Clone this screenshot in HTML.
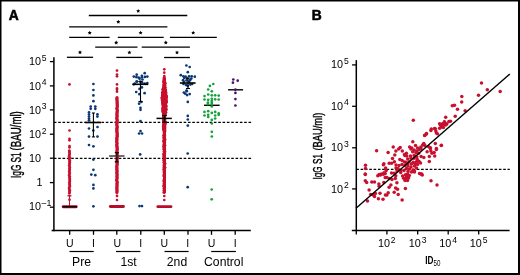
<!DOCTYPE html>
<html><head><meta charset="utf-8"><style>
html,body{margin:0;padding:0;background:#fff;}
body{width:520px;height:275px;overflow:hidden;position:relative;}
svg{position:absolute;left:0;top:0;will-change:transform;}
text{font-family:"Liberation Sans",sans-serif;fill:#000;}
</style></head><body>
<svg width="520" height="275" viewBox="0 0 520 275">
<rect x="0" y="0" width="520" height="275" fill="#fff"/>
<line x1="88.8" y1="15.5" x2="187.3" y2="15.5" stroke="#000" stroke-width="1.3" />
<polygon points="138.20,8.90 138.82,10.15 140.20,10.35 139.20,11.32 139.43,12.70 138.20,12.05 136.97,12.70 137.20,11.32 136.20,10.35 137.58,10.15" fill="#000"/>
<line x1="69.2" y1="26.8" x2="167.4" y2="26.8" stroke="#000" stroke-width="1.3" />
<polygon points="118.30,19.80 118.92,21.05 120.30,21.25 119.30,22.22 119.53,23.60 118.30,22.95 117.07,23.60 117.30,22.22 116.30,21.25 117.68,21.05" fill="#000"/>
<line x1="69.2" y1="37.3" x2="109.6" y2="37.3" stroke="#000" stroke-width="1.3" />
<polygon points="89.70,30.80 90.32,32.05 91.70,32.25 90.70,33.22 90.93,34.60 89.70,33.95 88.47,34.60 88.70,33.22 87.70,32.25 89.08,32.05" fill="#000"/>
<line x1="117.8" y1="37.3" x2="163.7" y2="37.3" stroke="#000" stroke-width="1.3" />
<polygon points="140.60,30.70 141.22,31.95 142.60,32.15 141.60,33.12 141.83,34.50 140.60,33.85 139.37,34.50 139.60,33.12 138.60,32.15 139.98,31.95" fill="#000"/>
<line x1="169.9" y1="37.4" x2="216.8" y2="37.4" stroke="#000" stroke-width="1.3" />
<polygon points="193.20,30.70 193.82,31.95 195.20,32.15 194.20,33.12 194.43,34.50 193.20,33.85 191.97,34.50 192.20,33.12 191.20,32.15 192.58,31.95" fill="#000"/>
<line x1="95.2" y1="47.2" x2="137.5" y2="47.2" stroke="#000" stroke-width="1.3" />
<polygon points="116.20,40.60 116.82,41.85 118.20,42.05 117.20,43.02 117.43,44.40 116.20,43.75 114.97,44.40 115.20,43.02 114.20,42.05 115.58,41.85" fill="#000"/>
<line x1="141.7" y1="47.2" x2="189.9" y2="47.2" stroke="#000" stroke-width="1.3" />
<polygon points="165.80,40.50 166.42,41.75 167.80,41.95 166.80,42.92 167.03,44.30 165.80,43.65 164.57,44.30 164.80,42.92 163.80,41.95 165.18,41.75" fill="#000"/>
<line x1="66.9" y1="57.3" x2="93.1" y2="57.3" stroke="#000" stroke-width="1.3" />
<polygon points="80.00,50.30 80.62,51.55 82.00,51.75 81.00,52.72 81.23,54.10 80.00,53.45 78.77,54.10 79.00,52.72 78.00,51.75 79.38,51.55" fill="#000"/>
<line x1="116.3" y1="57.4" x2="142.3" y2="57.4" stroke="#000" stroke-width="1.3" />
<polygon points="129.40,50.40 130.02,51.65 131.40,51.85 130.40,52.82 130.63,54.20 129.40,53.55 128.17,54.20 128.40,52.82 127.40,51.85 128.78,51.65" fill="#000"/>
<line x1="164.1" y1="57.5" x2="189.9" y2="57.5" stroke="#000" stroke-width="1.3" />
<polygon points="177.00,50.40 177.62,51.65 179.00,51.85 178.00,52.82 178.23,54.20 177.00,53.55 175.77,54.20 176.00,52.82 175.00,51.85 176.38,51.65" fill="#000"/>
<line x1="53.88" y1="122.4" x2="251.5" y2="122.4" stroke="#000" stroke-width="1.3" stroke-dasharray="2.6 1.725"/>
<line x1="53.88" y1="158.4" x2="251.5" y2="158.4" stroke="#000" stroke-width="1.3" stroke-dasharray="2.6 1.725"/>
<circle cx="69.5" cy="84.4" r="1.35" fill="#c8102e"/>
<circle cx="69.5" cy="130.5" r="1.35" fill="#c8102e"/>
<circle cx="69.5" cy="138.8" r="1.35" fill="#c8102e"/>
<circle cx="69.5" cy="140.3" r="1.35" fill="#c8102e"/>
<circle cx="69.5" cy="146.1" r="1.35" fill="#c8102e"/>
<circle cx="69.5" cy="147.5" r="1.35" fill="#c8102e"/>
<circle cx="69.3" cy="150.5" r="1.35" fill="#c8102e"/>
<circle cx="69.5" cy="151.5" r="1.35" fill="#c8102e"/>
<circle cx="69.4" cy="152.5" r="1.35" fill="#c8102e"/>
<circle cx="69.6" cy="153.5" r="1.35" fill="#c8102e"/>
<circle cx="69.6" cy="154.5" r="1.35" fill="#c8102e"/>
<circle cx="69.2" cy="155.5" r="1.35" fill="#c8102e"/>
<circle cx="69.1" cy="156.5" r="1.35" fill="#c8102e"/>
<circle cx="69.8" cy="157.5" r="1.35" fill="#c8102e"/>
<circle cx="69.3" cy="158.5" r="1.35" fill="#c8102e"/>
<circle cx="69.3" cy="159.5" r="1.35" fill="#c8102e"/>
<circle cx="69.9" cy="160.5" r="1.35" fill="#c8102e"/>
<circle cx="69.5" cy="161.5" r="1.35" fill="#c8102e"/>
<circle cx="69.8" cy="162.5" r="1.35" fill="#c8102e"/>
<circle cx="69.5" cy="163.5" r="1.35" fill="#c8102e"/>
<circle cx="69.6" cy="164.5" r="1.35" fill="#c8102e"/>
<circle cx="69.2" cy="165.5" r="1.35" fill="#c8102e"/>
<circle cx="69.6" cy="166.5" r="1.35" fill="#c8102e"/>
<circle cx="69.8" cy="167.5" r="1.35" fill="#c8102e"/>
<circle cx="69.5" cy="168.5" r="1.35" fill="#c8102e"/>
<circle cx="69.7" cy="169.5" r="1.35" fill="#c8102e"/>
<circle cx="69.6" cy="170.5" r="1.35" fill="#c8102e"/>
<circle cx="69.2" cy="171.5" r="1.35" fill="#c8102e"/>
<circle cx="69.7" cy="172.5" r="1.35" fill="#c8102e"/>
<circle cx="69.6" cy="173.5" r="1.35" fill="#c8102e"/>
<circle cx="69.3" cy="174.5" r="1.35" fill="#c8102e"/>
<circle cx="69.1" cy="175.5" r="1.35" fill="#c8102e"/>
<circle cx="69.8" cy="176.5" r="1.35" fill="#c8102e"/>
<circle cx="69.5" cy="177.5" r="1.35" fill="#c8102e"/>
<circle cx="69.7" cy="178.5" r="1.35" fill="#c8102e"/>
<circle cx="69.8" cy="179.5" r="1.35" fill="#c8102e"/>
<circle cx="69.7" cy="180.5" r="1.35" fill="#c8102e"/>
<circle cx="69.8" cy="181.5" r="1.35" fill="#c8102e"/>
<circle cx="69.4" cy="182.5" r="1.35" fill="#c8102e"/>
<circle cx="69.7" cy="183.5" r="1.35" fill="#c8102e"/>
<circle cx="69.5" cy="184.5" r="1.35" fill="#c8102e"/>
<circle cx="69.8" cy="185.5" r="1.35" fill="#c8102e"/>
<circle cx="69.8" cy="186.5" r="1.35" fill="#c8102e"/>
<circle cx="69.2" cy="187.5" r="1.35" fill="#c8102e"/>
<circle cx="69.2" cy="188.5" r="1.35" fill="#c8102e"/>
<circle cx="69.3" cy="189.5" r="1.35" fill="#c8102e"/>
<circle cx="69.9" cy="190.5" r="1.35" fill="#c8102e"/>
<circle cx="69.4" cy="191.5" r="1.35" fill="#c8102e"/>
<circle cx="69.6" cy="192.5" r="1.35" fill="#c8102e"/>
<circle cx="69.3" cy="193.5" r="1.35" fill="#c8102e"/>
<circle cx="69.5" cy="199.7" r="1.35" fill="#c8102e"/>
<line x1="69.5" y1="195" x2="69.5" y2="206" stroke="#c8102e" stroke-width="1.0" />
<rect x="61.7" y="205.2" width="16" height="3" rx="1.4" fill="#c8102e"/>
<line x1="62.5" y1="206.7" x2="77.0" y2="206.7" stroke="#000" stroke-width="1.6" />
<line x1="67.5" y1="195.8" x2="71.4" y2="195.8" stroke="#a00a25" stroke-width="1.3" />
<circle cx="93.4" cy="84.0" r="1.35" fill="#0a3874"/>
<circle cx="93.4" cy="90.0" r="1.35" fill="#0a3874"/>
<circle cx="93.4" cy="95.4" r="1.35" fill="#0a3874"/>
<circle cx="93.4" cy="101.2" r="1.35" fill="#0a3874"/>
<circle cx="90.7" cy="106.6" r="1.35" fill="#0a3874"/>
<circle cx="95.3" cy="106.6" r="1.35" fill="#0a3874"/>
<circle cx="90.7" cy="108.8" r="1.35" fill="#0a3874"/>
<circle cx="95.3" cy="108.8" r="1.35" fill="#0a3874"/>
<circle cx="89.0" cy="112.4" r="1.35" fill="#0a3874"/>
<circle cx="97.4" cy="114.3" r="1.35" fill="#0a3874"/>
<circle cx="89.0" cy="114.5" r="1.35" fill="#0a3874"/>
<circle cx="97.4" cy="116.6" r="1.35" fill="#0a3874"/>
<circle cx="89.0" cy="116.5" r="1.35" fill="#0a3874"/>
<circle cx="89.0" cy="118.5" r="1.35" fill="#0a3874"/>
<circle cx="89.0" cy="120.3" r="1.35" fill="#0a3874"/>
<circle cx="97.5" cy="127.0" r="1.35" fill="#0a3874"/>
<circle cx="89.0" cy="128.5" r="1.35" fill="#0a3874"/>
<circle cx="93.3" cy="130.5" r="1.35" fill="#0a3874"/>
<circle cx="89.0" cy="136.6" r="1.35" fill="#0a3874"/>
<circle cx="97.5" cy="136.6" r="1.35" fill="#0a3874"/>
<circle cx="89.0" cy="145.0" r="1.35" fill="#0a3874"/>
<circle cx="93.4" cy="146.3" r="1.35" fill="#0a3874"/>
<circle cx="93.4" cy="159.6" r="1.35" fill="#0a3874"/>
<circle cx="93.4" cy="169.8" r="1.35" fill="#0a3874"/>
<circle cx="91.3" cy="174.6" r="1.35" fill="#0a3874"/>
<circle cx="95.3" cy="175.2" r="1.35" fill="#0a3874"/>
<circle cx="93.4" cy="184.9" r="1.35" fill="#0a3874"/>
<circle cx="93.4" cy="188.4" r="1.35" fill="#0a3874"/>
<circle cx="93.4" cy="206.3" r="1.35" fill="#0a3874"/>
<line x1="93.4" y1="113" x2="93.4" y2="136.9" stroke="#000" stroke-width="1.1" />
<line x1="91.9" y1="113" x2="94.9" y2="113" stroke="#000" stroke-width="1.1" />
<line x1="91.9" y1="136.9" x2="94.9" y2="136.9" stroke="#000" stroke-width="1.1" />
<line x1="85.1" y1="122.5" x2="101.1" y2="122.5" stroke="#000" stroke-width="1.6" />
<circle cx="117.0" cy="70.6" r="1.35" fill="#c8102e"/>
<circle cx="117.0" cy="74.5" r="1.35" fill="#c8102e"/>
<circle cx="117.0" cy="76.3" r="1.35" fill="#c8102e"/>
<circle cx="117.0" cy="84.4" r="1.35" fill="#c8102e"/>
<circle cx="117.0" cy="88.4" r="1.35" fill="#c8102e"/>
<circle cx="117.0" cy="89.8" r="1.35" fill="#c8102e"/>
<circle cx="117.0" cy="91.7" r="1.35" fill="#c8102e"/>
<circle cx="117.0" cy="97.6" r="1.55" fill="#c8102e"/>
<circle cx="116.9" cy="98.6" r="1.55" fill="#c8102e"/>
<circle cx="116.9" cy="99.6" r="1.55" fill="#c8102e"/>
<circle cx="117.1" cy="100.6" r="1.55" fill="#c8102e"/>
<circle cx="117.1" cy="101.6" r="1.55" fill="#c8102e"/>
<circle cx="117.2" cy="102.6" r="1.55" fill="#c8102e"/>
<circle cx="117.1" cy="103.6" r="1.55" fill="#c8102e"/>
<circle cx="117.3" cy="104.6" r="1.55" fill="#c8102e"/>
<circle cx="117.2" cy="105.6" r="1.55" fill="#c8102e"/>
<circle cx="117.3" cy="106.6" r="1.55" fill="#c8102e"/>
<circle cx="117.1" cy="107.6" r="1.55" fill="#c8102e"/>
<circle cx="116.8" cy="108.6" r="1.55" fill="#c8102e"/>
<circle cx="117.2" cy="109.6" r="1.55" fill="#c8102e"/>
<circle cx="117.3" cy="110.6" r="1.55" fill="#c8102e"/>
<circle cx="117.2" cy="111.6" r="1.55" fill="#c8102e"/>
<circle cx="117.0" cy="112.6" r="1.55" fill="#c8102e"/>
<circle cx="117.1" cy="113.6" r="1.55" fill="#c8102e"/>
<circle cx="116.8" cy="114.6" r="1.55" fill="#c8102e"/>
<circle cx="117.2" cy="115.6" r="1.55" fill="#c8102e"/>
<circle cx="117.0" cy="116.6" r="1.55" fill="#c8102e"/>
<circle cx="116.9" cy="117.6" r="1.55" fill="#c8102e"/>
<circle cx="116.7" cy="118.6" r="1.55" fill="#c8102e"/>
<circle cx="117.2" cy="119.6" r="1.55" fill="#c8102e"/>
<circle cx="117.3" cy="120.6" r="1.55" fill="#c8102e"/>
<circle cx="116.8" cy="121.6" r="1.55" fill="#c8102e"/>
<circle cx="117.2" cy="122.6" r="1.55" fill="#c8102e"/>
<circle cx="116.9" cy="123.6" r="1.55" fill="#c8102e"/>
<circle cx="116.8" cy="124.6" r="1.55" fill="#c8102e"/>
<circle cx="116.9" cy="125.6" r="1.55" fill="#c8102e"/>
<circle cx="117.2" cy="126.6" r="1.55" fill="#c8102e"/>
<circle cx="117.2" cy="127.6" r="1.55" fill="#c8102e"/>
<circle cx="116.7" cy="128.6" r="1.55" fill="#c8102e"/>
<circle cx="117.1" cy="129.6" r="1.55" fill="#c8102e"/>
<circle cx="116.7" cy="130.6" r="1.55" fill="#c8102e"/>
<circle cx="117.1" cy="131.6" r="1.55" fill="#c8102e"/>
<circle cx="116.9" cy="132.6" r="1.55" fill="#c8102e"/>
<circle cx="117.2" cy="133.6" r="1.55" fill="#c8102e"/>
<circle cx="117.3" cy="134.6" r="1.55" fill="#c8102e"/>
<circle cx="117.0" cy="135.6" r="1.55" fill="#c8102e"/>
<circle cx="117.3" cy="136.6" r="1.55" fill="#c8102e"/>
<circle cx="116.9" cy="137.6" r="1.55" fill="#c8102e"/>
<circle cx="116.7" cy="138.6" r="1.55" fill="#c8102e"/>
<circle cx="117.1" cy="139.6" r="1.55" fill="#c8102e"/>
<circle cx="116.7" cy="140.6" r="1.55" fill="#c8102e"/>
<circle cx="116.8" cy="141.6" r="1.55" fill="#c8102e"/>
<circle cx="116.9" cy="142.6" r="1.55" fill="#c8102e"/>
<circle cx="117.1" cy="143.6" r="1.55" fill="#c8102e"/>
<circle cx="116.8" cy="144.6" r="1.55" fill="#c8102e"/>
<circle cx="116.7" cy="145.6" r="1.55" fill="#c8102e"/>
<circle cx="117.2" cy="146.6" r="1.55" fill="#c8102e"/>
<circle cx="116.9" cy="147.6" r="1.55" fill="#c8102e"/>
<circle cx="117.3" cy="148.6" r="1.55" fill="#c8102e"/>
<circle cx="117.2" cy="149.6" r="1.55" fill="#c8102e"/>
<circle cx="116.9" cy="150.6" r="1.55" fill="#c8102e"/>
<circle cx="117.0" cy="151.6" r="1.55" fill="#c8102e"/>
<circle cx="117.0" cy="152.6" r="1.55" fill="#c8102e"/>
<circle cx="117.1" cy="153.6" r="1.55" fill="#c8102e"/>
<circle cx="117.1" cy="154.6" r="1.55" fill="#c8102e"/>
<circle cx="117.0" cy="155.6" r="1.55" fill="#c8102e"/>
<circle cx="117.1" cy="156.6" r="1.55" fill="#c8102e"/>
<circle cx="117.3" cy="157.6" r="1.55" fill="#c8102e"/>
<circle cx="117.0" cy="158.6" r="1.55" fill="#c8102e"/>
<circle cx="117.0" cy="159.6" r="1.55" fill="#c8102e"/>
<circle cx="117.1" cy="160.6" r="1.55" fill="#c8102e"/>
<circle cx="116.8" cy="161.6" r="1.55" fill="#c8102e"/>
<circle cx="116.9" cy="162.6" r="1.55" fill="#c8102e"/>
<circle cx="117.3" cy="163.6" r="1.55" fill="#c8102e"/>
<circle cx="117.0" cy="164.6" r="1.55" fill="#c8102e"/>
<circle cx="117.0" cy="165.6" r="1.55" fill="#c8102e"/>
<circle cx="116.7" cy="166.6" r="1.55" fill="#c8102e"/>
<circle cx="116.9" cy="167.6" r="1.55" fill="#c8102e"/>
<circle cx="117.0" cy="168.6" r="1.55" fill="#c8102e"/>
<circle cx="116.7" cy="169.6" r="1.55" fill="#c8102e"/>
<circle cx="117.1" cy="170.6" r="1.55" fill="#c8102e"/>
<circle cx="117.1" cy="171.6" r="1.55" fill="#c8102e"/>
<circle cx="116.7" cy="172.6" r="1.55" fill="#c8102e"/>
<circle cx="117.1" cy="173.6" r="1.55" fill="#c8102e"/>
<circle cx="117.0" cy="174.6" r="1.55" fill="#c8102e"/>
<circle cx="117.1" cy="175.6" r="1.55" fill="#c8102e"/>
<circle cx="116.9" cy="176.6" r="1.55" fill="#c8102e"/>
<circle cx="117.1" cy="177.6" r="1.55" fill="#c8102e"/>
<circle cx="117.1" cy="178.6" r="1.55" fill="#c8102e"/>
<circle cx="116.7" cy="179.6" r="1.55" fill="#c8102e"/>
<circle cx="116.7" cy="180.6" r="1.55" fill="#c8102e"/>
<circle cx="117.1" cy="181.6" r="1.55" fill="#c8102e"/>
<circle cx="117.3" cy="182.6" r="1.55" fill="#c8102e"/>
<circle cx="116.9" cy="183.6" r="1.55" fill="#c8102e"/>
<circle cx="117.0" cy="184.6" r="1.55" fill="#c8102e"/>
<circle cx="117.1" cy="185.6" r="1.55" fill="#c8102e"/>
<circle cx="116.9" cy="186.6" r="1.55" fill="#c8102e"/>
<circle cx="116.9" cy="187.6" r="1.55" fill="#c8102e"/>
<circle cx="116.9" cy="188.6" r="1.55" fill="#c8102e"/>
<circle cx="116.9" cy="189.6" r="1.55" fill="#c8102e"/>
<circle cx="117.1" cy="190.6" r="1.55" fill="#c8102e"/>
<circle cx="116.9" cy="191.6" r="1.55" fill="#c8102e"/>
<circle cx="116.9" cy="192.6" r="1.55" fill="#c8102e"/>
<circle cx="117.0" cy="195.9" r="1.35" fill="#c8102e"/>
<circle cx="117.0" cy="200.0" r="1.35" fill="#c8102e"/>
<rect x="108.9" y="205.1" width="16.0" height="2.9" rx="1.4" fill="#b80c28"/>
<line x1="116.9" y1="152.6" x2="116.9" y2="161.8" stroke="#000" stroke-width="1.1" />
<line x1="114.8" y1="152.6" x2="118.8" y2="152.6" stroke="#000" stroke-width="1.2" />
<line x1="114.8" y1="161.8" x2="118.8" y2="161.8" stroke="#000" stroke-width="1.2" />
<line x1="109.1" y1="156.0" x2="124.5" y2="156.0" stroke="#333" stroke-width="1.4" />
<circle cx="144.7" cy="73.2" r="1.35" fill="#0a3874"/>
<circle cx="136.7" cy="74.7" r="1.35" fill="#0a3874"/>
<circle cx="141.9" cy="75.8" r="1.35" fill="#0a3874"/>
<circle cx="133.8" cy="76.6" r="1.35" fill="#0a3874"/>
<circle cx="136.4" cy="77.2" r="1.35" fill="#0a3874"/>
<circle cx="138.6" cy="77.5" r="1.35" fill="#0a3874"/>
<circle cx="144.9" cy="76.9" r="1.35" fill="#0a3874"/>
<circle cx="147.3" cy="76.6" r="1.35" fill="#0a3874"/>
<circle cx="141.9" cy="77.3" r="1.35" fill="#0a3874"/>
<circle cx="139.6" cy="78.7" r="1.35" fill="#0a3874"/>
<circle cx="142.5" cy="79.5" r="1.35" fill="#0a3874"/>
<circle cx="136.9" cy="81.7" r="1.35" fill="#0a3874"/>
<circle cx="140.3" cy="81.7" r="1.35" fill="#0a3874"/>
<circle cx="142.1" cy="82.6" r="1.35" fill="#0a3874"/>
<circle cx="144.7" cy="83.5" r="1.35" fill="#0a3874"/>
<circle cx="147.3" cy="83.0" r="1.35" fill="#0a3874"/>
<circle cx="133.8" cy="84.3" r="1.35" fill="#0a3874"/>
<circle cx="134.7" cy="83.7" r="1.35" fill="#0a3874"/>
<circle cx="136.6" cy="81.5" r="1.35" fill="#0a3874"/>
<circle cx="141.9" cy="87.4" r="1.35" fill="#0a3874"/>
<circle cx="139.5" cy="88.9" r="1.35" fill="#0a3874"/>
<circle cx="136.2" cy="92.0" r="1.35" fill="#0a3874"/>
<circle cx="144.6" cy="93.2" r="1.35" fill="#0a3874"/>
<circle cx="139.4" cy="94.2" r="1.35" fill="#0a3874"/>
<circle cx="141.3" cy="102.0" r="1.35" fill="#0a3874"/>
<circle cx="139.1" cy="103.7" r="1.35" fill="#0a3874"/>
<circle cx="140.5" cy="107.8" r="1.35" fill="#0a3874"/>
<circle cx="140.5" cy="109.8" r="1.35" fill="#0a3874"/>
<circle cx="140.5" cy="121.2" r="1.35" fill="#0a3874"/>
<circle cx="140.5" cy="131.1" r="1.35" fill="#0a3874"/>
<circle cx="139.1" cy="133.5" r="1.35" fill="#0a3874"/>
<circle cx="142.0" cy="133.5" r="1.35" fill="#0a3874"/>
<circle cx="140.2" cy="154.4" r="1.35" fill="#0a3874"/>
<circle cx="139.5" cy="206.1" r="1.35" fill="#0a3874"/>
<circle cx="142.0" cy="206.1" r="1.35" fill="#0a3874"/>
<line x1="140.5" y1="81.5" x2="140.5" y2="101.5" stroke="#000" stroke-width="1.1" />
<line x1="138.4" y1="81.5" x2="142.6" y2="81.5" stroke="#000" stroke-width="1.1" />
<line x1="138.4" y1="101.5" x2="142.7" y2="101.5" stroke="#000" stroke-width="1.1" />
<line x1="132.5" y1="84.3" x2="148.3" y2="84.3" stroke="#000" stroke-width="1.6" />
<circle cx="164.3" cy="69.3" r="1.35" fill="#c8102e"/>
<circle cx="164.3" cy="72.7" r="1.35" fill="#c8102e"/>
<circle cx="164.3" cy="76.1" r="1.35" fill="#c8102e"/>
<circle cx="164.2" cy="77.7" r="1.4" fill="#c8102e"/>
<circle cx="164.2" cy="78.1" r="1.4" fill="#c8102e"/>
<circle cx="164.6" cy="79.0" r="1.4" fill="#c8102e"/>
<circle cx="164.0" cy="78.6" r="1.4" fill="#c8102e"/>
<circle cx="164.3" cy="79.4" r="1.4" fill="#c8102e"/>
<circle cx="164.1" cy="79.5" r="1.4" fill="#c8102e"/>
<circle cx="164.4" cy="80.6" r="1.4" fill="#c8102e"/>
<circle cx="164.0" cy="80.3" r="1.4" fill="#c8102e"/>
<circle cx="164.0" cy="81.2" r="1.4" fill="#c8102e"/>
<circle cx="164.1" cy="81.0" r="1.4" fill="#c8102e"/>
<circle cx="164.4" cy="82.2" r="1.4" fill="#c8102e"/>
<circle cx="164.6" cy="81.8" r="1.4" fill="#c8102e"/>
<circle cx="163.3" cy="82.0" r="1.2" fill="#c8102e"/>
<circle cx="164.2" cy="82.6" r="1.4" fill="#c8102e"/>
<circle cx="164.3" cy="83.0" r="1.4" fill="#c8102e"/>
<circle cx="165.3" cy="82.8" r="1.2" fill="#c8102e"/>
<circle cx="164.2" cy="83.6" r="1.4" fill="#c8102e"/>
<circle cx="164.2" cy="83.5" r="1.4" fill="#c8102e"/>
<circle cx="165.5" cy="83.6" r="1.2" fill="#c8102e"/>
<circle cx="163.7" cy="84.7" r="1.4" fill="#c8102e"/>
<circle cx="164.6" cy="84.7" r="1.4" fill="#c8102e"/>
<circle cx="164.1" cy="85.3" r="1.4" fill="#c8102e"/>
<circle cx="165.0" cy="85.3" r="1.4" fill="#c8102e"/>
<circle cx="163.9" cy="85.9" r="1.4" fill="#c8102e"/>
<circle cx="164.6" cy="85.7" r="1.4" fill="#c8102e"/>
<circle cx="163.9" cy="87.0" r="1.4" fill="#c8102e"/>
<circle cx="164.6" cy="87.0" r="1.4" fill="#c8102e"/>
<circle cx="164.9" cy="87.0" r="1.4" fill="#c8102e"/>
<circle cx="163.4" cy="87.6" r="1.4" fill="#c8102e"/>
<circle cx="164.6" cy="87.7" r="1.4" fill="#c8102e"/>
<circle cx="165.6" cy="87.6" r="1.2" fill="#c8102e"/>
<circle cx="163.6" cy="87.6" r="1.4" fill="#c8102e"/>
<circle cx="163.9" cy="88.6" r="1.4" fill="#c8102e"/>
<circle cx="164.8" cy="88.2" r="1.4" fill="#c8102e"/>
<circle cx="164.4" cy="88.6" r="1.4" fill="#c8102e"/>
<circle cx="163.7" cy="89.0" r="1.4" fill="#c8102e"/>
<circle cx="164.9" cy="89.4" r="1.4" fill="#c8102e"/>
<circle cx="162.5" cy="89.2" r="1.2" fill="#c8102e"/>
<circle cx="165.1" cy="89.4" r="1.4" fill="#c8102e"/>
<circle cx="163.1" cy="89.7" r="1.4" fill="#c8102e"/>
<circle cx="165.4" cy="90.2" r="1.4" fill="#c8102e"/>
<circle cx="165.9" cy="90.0" r="1.2" fill="#c8102e"/>
<circle cx="164.6" cy="90.0" r="1.4" fill="#c8102e"/>
<circle cx="163.5" cy="90.7" r="1.4" fill="#c8102e"/>
<circle cx="165.6" cy="91.0" r="1.4" fill="#c8102e"/>
<circle cx="163.2" cy="90.5" r="1.4" fill="#c8102e"/>
<circle cx="163.1" cy="91.3" r="1.4" fill="#c8102e"/>
<circle cx="165.7" cy="91.6" r="1.4" fill="#c8102e"/>
<circle cx="163.4" cy="91.3" r="1.4" fill="#c8102e"/>
<circle cx="164.0" cy="91.5" r="1.4" fill="#c8102e"/>
<circle cx="163.1" cy="92.3" r="1.4" fill="#c8102e"/>
<circle cx="166.0" cy="92.4" r="1.4" fill="#c8102e"/>
<circle cx="162.1" cy="92.4" r="1.2" fill="#c8102e"/>
<circle cx="164.0" cy="92.1" r="1.4" fill="#c8102e"/>
<circle cx="163.4" cy="92.3" r="1.4" fill="#c8102e"/>
<circle cx="162.7" cy="93.4" r="1.4" fill="#c8102e"/>
<circle cx="165.7" cy="93.4" r="1.4" fill="#c8102e"/>
<circle cx="164.1" cy="93.1" r="1.4" fill="#c8102e"/>
<circle cx="164.3" cy="93.3" r="1.4" fill="#c8102e"/>
<circle cx="162.8" cy="94.1" r="1.4" fill="#c8102e"/>
<circle cx="165.9" cy="93.8" r="1.4" fill="#c8102e"/>
<circle cx="165.0" cy="93.7" r="1.4" fill="#c8102e"/>
<circle cx="164.0" cy="94.0" r="1.4" fill="#c8102e"/>
<circle cx="162.3" cy="95.1" r="1.4" fill="#c8102e"/>
<circle cx="165.9" cy="95.0" r="1.4" fill="#c8102e"/>
<circle cx="163.4" cy="94.8" r="1.4" fill="#c8102e"/>
<circle cx="162.9" cy="95.0" r="1.4" fill="#c8102e"/>
<circle cx="162.3" cy="95.8" r="1.4" fill="#c8102e"/>
<circle cx="166.3" cy="95.7" r="1.4" fill="#c8102e"/>
<circle cx="164.5" cy="95.4" r="1.4" fill="#c8102e"/>
<circle cx="164.6" cy="95.3" r="1.4" fill="#c8102e"/>
<circle cx="162.7" cy="96.6" r="1.4" fill="#c8102e"/>
<circle cx="165.9" cy="96.2" r="1.4" fill="#c8102e"/>
<circle cx="166.8" cy="96.4" r="1.2" fill="#c8102e"/>
<circle cx="162.4" cy="96.6" r="1.4" fill="#c8102e"/>
<circle cx="162.8" cy="96.6" r="1.4" fill="#c8102e"/>
<circle cx="165.0" cy="96.6" r="1.4" fill="#c8102e"/>
<circle cx="162.1" cy="97.2" r="1.4" fill="#c8102e"/>
<circle cx="166.4" cy="96.9" r="1.4" fill="#c8102e"/>
<circle cx="164.3" cy="97.3" r="1.4" fill="#c8102e"/>
<circle cx="162.8" cy="97.3" r="1.4" fill="#c8102e"/>
<circle cx="166.0" cy="96.9" r="1.4" fill="#c8102e"/>
<circle cx="162.6" cy="98.0" r="1.4" fill="#c8102e"/>
<circle cx="166.4" cy="97.8" r="1.4" fill="#c8102e"/>
<circle cx="161.7" cy="98.0" r="1.2" fill="#c8102e"/>
<circle cx="165.1" cy="98.3" r="1.4" fill="#c8102e"/>
<circle cx="163.3" cy="98.1" r="1.4" fill="#c8102e"/>
<circle cx="166.0" cy="98.0" r="1.4" fill="#c8102e"/>
<circle cx="162.1" cy="98.7" r="1.4" fill="#c8102e"/>
<circle cx="165.9" cy="99.1" r="1.4" fill="#c8102e"/>
<circle cx="166.1" cy="98.7" r="1.4" fill="#c8102e"/>
<circle cx="164.6" cy="98.8" r="1.4" fill="#c8102e"/>
<circle cx="162.2" cy="99.7" r="1.4" fill="#c8102e"/>
<circle cx="165.9" cy="99.5" r="1.4" fill="#c8102e"/>
<circle cx="163.0" cy="99.6" r="1.4" fill="#c8102e"/>
<circle cx="164.2" cy="99.7" r="1.4" fill="#c8102e"/>
<circle cx="162.2" cy="100.5" r="1.4" fill="#c8102e"/>
<circle cx="166.3" cy="100.2" r="1.4" fill="#c8102e"/>
<circle cx="163.0" cy="100.4" r="1.4" fill="#c8102e"/>
<circle cx="165.9" cy="100.6" r="1.4" fill="#c8102e"/>
<circle cx="162.5" cy="101.4" r="1.4" fill="#c8102e"/>
<circle cx="166.1" cy="101.4" r="1.4" fill="#c8102e"/>
<circle cx="164.6" cy="101.5" r="1.4" fill="#c8102e"/>
<circle cx="165.7" cy="101.1" r="1.4" fill="#c8102e"/>
<circle cx="162.8" cy="102.2" r="1.4" fill="#c8102e"/>
<circle cx="165.8" cy="102.0" r="1.4" fill="#c8102e"/>
<circle cx="166.9" cy="102.0" r="1.2" fill="#c8102e"/>
<circle cx="163.0" cy="102.3" r="1.4" fill="#c8102e"/>
<circle cx="164.2" cy="102.1" r="1.4" fill="#c8102e"/>
<circle cx="162.7" cy="103.0" r="1.4" fill="#c8102e"/>
<circle cx="166.2" cy="102.8" r="1.4" fill="#c8102e"/>
<circle cx="165.1" cy="103.0" r="1.4" fill="#c8102e"/>
<circle cx="164.0" cy="102.9" r="1.4" fill="#c8102e"/>
<circle cx="162.4" cy="103.6" r="1.4" fill="#c8102e"/>
<circle cx="165.7" cy="103.4" r="1.4" fill="#c8102e"/>
<circle cx="164.9" cy="103.9" r="1.4" fill="#c8102e"/>
<circle cx="165.5" cy="103.4" r="1.4" fill="#c8102e"/>
<circle cx="163.0" cy="104.3" r="1.4" fill="#c8102e"/>
<circle cx="165.6" cy="104.5" r="1.4" fill="#c8102e"/>
<circle cx="165.6" cy="104.3" r="1.4" fill="#c8102e"/>
<circle cx="165.5" cy="104.3" r="1.4" fill="#c8102e"/>
<circle cx="162.9" cy="105.3" r="1.4" fill="#c8102e"/>
<circle cx="165.5" cy="105.0" r="1.4" fill="#c8102e"/>
<circle cx="163.6" cy="105.1" r="1.4" fill="#c8102e"/>
<circle cx="164.6" cy="105.3" r="1.4" fill="#c8102e"/>
<circle cx="163.2" cy="105.9" r="1.4" fill="#c8102e"/>
<circle cx="165.7" cy="106.0" r="1.4" fill="#c8102e"/>
<circle cx="166.5" cy="106.0" r="1.2" fill="#c8102e"/>
<circle cx="164.4" cy="105.8" r="1.4" fill="#c8102e"/>
<circle cx="163.6" cy="106.1" r="1.4" fill="#c8102e"/>
<circle cx="163.1" cy="107.0" r="1.4" fill="#c8102e"/>
<circle cx="166.0" cy="106.6" r="1.4" fill="#c8102e"/>
<circle cx="163.9" cy="107.0" r="1.4" fill="#c8102e"/>
<circle cx="165.1" cy="106.7" r="1.4" fill="#c8102e"/>
<circle cx="162.8" cy="107.7" r="1.4" fill="#c8102e"/>
<circle cx="165.9" cy="107.5" r="1.4" fill="#c8102e"/>
<circle cx="165.7" cy="107.7" r="1.4" fill="#c8102e"/>
<circle cx="164.4" cy="107.4" r="1.4" fill="#c8102e"/>
<circle cx="162.9" cy="108.3" r="1.4" fill="#c8102e"/>
<circle cx="165.8" cy="108.5" r="1.4" fill="#c8102e"/>
<circle cx="163.4" cy="108.5" r="1.4" fill="#c8102e"/>
<circle cx="164.7" cy="108.2" r="1.4" fill="#c8102e"/>
<circle cx="162.7" cy="109.3" r="1.4" fill="#c8102e"/>
<circle cx="165.4" cy="109.5" r="1.4" fill="#c8102e"/>
<circle cx="166.5" cy="109.2" r="1.2" fill="#c8102e"/>
<circle cx="164.7" cy="109.2" r="1.4" fill="#c8102e"/>
<circle cx="163.7" cy="109.0" r="1.4" fill="#c8102e"/>
<circle cx="163.0" cy="110.2" r="1.4" fill="#c8102e"/>
<circle cx="165.7" cy="109.8" r="1.4" fill="#c8102e"/>
<circle cx="166.3" cy="110.0" r="1.2" fill="#c8102e"/>
<circle cx="163.6" cy="109.9" r="1.4" fill="#c8102e"/>
<circle cx="165.3" cy="109.7" r="1.4" fill="#c8102e"/>
<circle cx="163.1" cy="110.6" r="1.4" fill="#c8102e"/>
<circle cx="165.7" cy="110.7" r="1.4" fill="#c8102e"/>
<circle cx="164.0" cy="110.8" r="1.4" fill="#c8102e"/>
<circle cx="165.0" cy="110.7" r="1.4" fill="#c8102e"/>
<circle cx="162.9" cy="111.4" r="1.4" fill="#c8102e"/>
<circle cx="165.2" cy="111.4" r="1.4" fill="#c8102e"/>
<circle cx="162.6" cy="111.6" r="1.2" fill="#c8102e"/>
<circle cx="163.5" cy="111.5" r="1.4" fill="#c8102e"/>
<circle cx="163.1" cy="112.6" r="1.4" fill="#c8102e"/>
<circle cx="165.5" cy="112.5" r="1.4" fill="#c8102e"/>
<circle cx="166.2" cy="112.4" r="1.2" fill="#c8102e"/>
<circle cx="164.4" cy="112.2" r="1.4" fill="#c8102e"/>
<circle cx="163.6" cy="113.4" r="1.4" fill="#c8102e"/>
<circle cx="165.1" cy="113.1" r="1.4" fill="#c8102e"/>
<circle cx="164.2" cy="113.1" r="1.4" fill="#c8102e"/>
<circle cx="163.3" cy="113.9" r="1.4" fill="#c8102e"/>
<circle cx="165.4" cy="113.9" r="1.4" fill="#c8102e"/>
<circle cx="164.4" cy="114.1" r="1.4" fill="#c8102e"/>
<circle cx="163.3" cy="114.9" r="1.4" fill="#c8102e"/>
<circle cx="164.7" cy="114.6" r="1.4" fill="#c8102e"/>
<circle cx="163.7" cy="115.0" r="1.4" fill="#c8102e"/>
<circle cx="163.8" cy="115.4" r="1.4" fill="#c8102e"/>
<circle cx="165.0" cy="115.4" r="1.4" fill="#c8102e"/>
<circle cx="163.9" cy="115.8" r="1.4" fill="#c8102e"/>
<circle cx="163.4" cy="116.7" r="1.4" fill="#c8102e"/>
<circle cx="164.6" cy="116.3" r="1.4" fill="#c8102e"/>
<circle cx="163.8" cy="116.4" r="1.4" fill="#c8102e"/>
<circle cx="164.1" cy="117.5" r="1.4" fill="#c8102e"/>
<circle cx="164.5" cy="117.3" r="1.4" fill="#c8102e"/>
<circle cx="163.8" cy="117.7" r="1.4" fill="#c8102e"/>
<circle cx="164.6" cy="117.9" r="1.4" fill="#c8102e"/>
<circle cx="163.8" cy="118.5" r="1.4" fill="#c8102e"/>
<circle cx="164.9" cy="119.0" r="1.4" fill="#c8102e"/>
<circle cx="163.0" cy="118.8" r="1.2" fill="#c8102e"/>
<circle cx="164.1" cy="119.8" r="1.4" fill="#c8102e"/>
<circle cx="164.9" cy="119.8" r="1.4" fill="#c8102e"/>
<circle cx="163.8" cy="120.4" r="1.4" fill="#c8102e"/>
<circle cx="164.4" cy="120.1" r="1.4" fill="#c8102e"/>
<circle cx="163.1" cy="120.4" r="1.2" fill="#c8102e"/>
<circle cx="164.0" cy="121.2" r="1.4" fill="#c8102e"/>
<circle cx="164.4" cy="121.4" r="1.4" fill="#c8102e"/>
<circle cx="165.3" cy="121.2" r="1.2" fill="#c8102e"/>
<circle cx="163.9" cy="122.2" r="1.4" fill="#c8102e"/>
<circle cx="164.7" cy="121.8" r="1.4" fill="#c8102e"/>
<circle cx="163.7" cy="122.7" r="1.4" fill="#c8102e"/>
<circle cx="164.7" cy="122.8" r="1.4" fill="#c8102e"/>
<circle cx="164.0" cy="123.3" r="1.4" fill="#c8102e"/>
<circle cx="164.6" cy="123.8" r="1.4" fill="#c8102e"/>
<circle cx="165.6" cy="123.6" r="1.2" fill="#c8102e"/>
<circle cx="164.0" cy="124.1" r="1.4" fill="#c8102e"/>
<circle cx="164.9" cy="124.4" r="1.4" fill="#c8102e"/>
<circle cx="163.8" cy="124.5" r="1.4" fill="#c8102e"/>
<circle cx="163.8" cy="125.0" r="1.4" fill="#c8102e"/>
<circle cx="165.1" cy="125.1" r="1.4" fill="#c8102e"/>
<circle cx="163.7" cy="125.3" r="1.4" fill="#c8102e"/>
<circle cx="163.9" cy="125.7" r="1.4" fill="#c8102e"/>
<circle cx="164.8" cy="126.2" r="1.4" fill="#c8102e"/>
<circle cx="164.0" cy="126.7" r="1.4" fill="#c8102e"/>
<circle cx="164.6" cy="126.7" r="1.4" fill="#c8102e"/>
<circle cx="163.0" cy="126.8" r="1.2" fill="#c8102e"/>
<circle cx="163.6" cy="127.5" r="1.4" fill="#c8102e"/>
<circle cx="165.1" cy="127.9" r="1.4" fill="#c8102e"/>
<circle cx="163.6" cy="128.4" r="1.4" fill="#c8102e"/>
<circle cx="164.7" cy="128.1" r="1.4" fill="#c8102e"/>
<circle cx="163.6" cy="129.1" r="1.4" fill="#c8102e"/>
<circle cx="164.3" cy="129.2" r="1.4" fill="#c8102e"/>
<circle cx="163.4" cy="129.2" r="1.2" fill="#c8102e"/>
<circle cx="163.9" cy="129.7" r="1.4" fill="#c8102e"/>
<circle cx="164.6" cy="130.0" r="1.4" fill="#c8102e"/>
<circle cx="165.2" cy="130.0" r="1.2" fill="#c8102e"/>
<circle cx="163.7" cy="130.8" r="1.4" fill="#c8102e"/>
<circle cx="164.8" cy="131.1" r="1.4" fill="#c8102e"/>
<circle cx="164.4" cy="131.5" r="1.4" fill="#c8102e"/>
<circle cx="164.6" cy="131.9" r="1.4" fill="#c8102e"/>
<circle cx="165.1" cy="131.6" r="1.2" fill="#c8102e"/>
<circle cx="164.2" cy="132.4" r="1.4" fill="#c8102e"/>
<circle cx="164.5" cy="132.4" r="1.4" fill="#c8102e"/>
<circle cx="164.2" cy="133.4" r="1.4" fill="#c8102e"/>
<circle cx="164.7" cy="133.1" r="1.4" fill="#c8102e"/>
<circle cx="164.3" cy="133.8" r="1.4" fill="#c8102e"/>
<circle cx="164.6" cy="134.0" r="1.4" fill="#c8102e"/>
<circle cx="164.1" cy="134.7" r="1.4" fill="#c8102e"/>
<circle cx="164.6" cy="134.8" r="1.4" fill="#c8102e"/>
<circle cx="164.0" cy="135.7" r="1.4" fill="#c8102e"/>
<circle cx="164.7" cy="135.3" r="1.4" fill="#c8102e"/>
<circle cx="163.3" cy="135.6" r="1.2" fill="#c8102e"/>
<circle cx="164.5" cy="136.5" r="1.4" fill="#c8102e"/>
<circle cx="164.5" cy="136.3" r="1.4" fill="#c8102e"/>
<circle cx="164.0" cy="136.9" r="1.4" fill="#c8102e"/>
<circle cx="164.4" cy="136.9" r="1.4" fill="#c8102e"/>
<circle cx="164.0" cy="138.1" r="1.4" fill="#c8102e"/>
<circle cx="164.7" cy="137.7" r="1.4" fill="#c8102e"/>
<circle cx="163.6" cy="138.0" r="1.2" fill="#c8102e"/>
<circle cx="164.4" cy="138.8" r="1.4" fill="#c8102e"/>
<circle cx="164.6" cy="138.6" r="1.4" fill="#c8102e"/>
<circle cx="163.9" cy="139.9" r="1.4" fill="#c8102e"/>
<circle cx="164.1" cy="139.9" r="1.4" fill="#c8102e"/>
<circle cx="165.3" cy="139.6" r="1.2" fill="#c8102e"/>
<circle cx="164.5" cy="140.4" r="1.4" fill="#c8102e"/>
<circle cx="164.3" cy="140.6" r="1.4" fill="#c8102e"/>
<circle cx="164.1" cy="141.2" r="1.4" fill="#c8102e"/>
<circle cx="164.1" cy="141.0" r="1.4" fill="#c8102e"/>
<circle cx="163.5" cy="141.2" r="1.2" fill="#c8102e"/>
<circle cx="164.0" cy="141.8" r="1.4" fill="#c8102e"/>
<circle cx="164.7" cy="141.9" r="1.4" fill="#c8102e"/>
<circle cx="165.0" cy="142.0" r="1.2" fill="#c8102e"/>
<circle cx="164.0" cy="142.9" r="1.4" fill="#c8102e"/>
<circle cx="164.4" cy="143.0" r="1.4" fill="#c8102e"/>
<circle cx="164.4" cy="143.7" r="1.4" fill="#c8102e"/>
<circle cx="164.3" cy="143.4" r="1.4" fill="#c8102e"/>
<circle cx="164.2" cy="144.6" r="1.4" fill="#c8102e"/>
<circle cx="164.1" cy="144.4" r="1.4" fill="#c8102e"/>
<circle cx="164.1" cy="144.9" r="1.4" fill="#c8102e"/>
<circle cx="164.2" cy="145.2" r="1.4" fill="#c8102e"/>
<circle cx="165.1" cy="145.2" r="1.2" fill="#c8102e"/>
<circle cx="164.2" cy="146.1" r="1.4" fill="#c8102e"/>
<circle cx="164.1" cy="145.9" r="1.4" fill="#c8102e"/>
<circle cx="164.4" cy="146.8" r="1.4" fill="#c8102e"/>
<circle cx="164.0" cy="146.6" r="1.4" fill="#c8102e"/>
<circle cx="163.4" cy="146.8" r="1.2" fill="#c8102e"/>
<circle cx="164.0" cy="147.9" r="1.4" fill="#c8102e"/>
<circle cx="164.4" cy="147.9" r="1.4" fill="#c8102e"/>
<circle cx="164.3" cy="148.7" r="1.4" fill="#c8102e"/>
<circle cx="164.6" cy="148.7" r="1.4" fill="#c8102e"/>
<circle cx="164.1" cy="149.1" r="1.4" fill="#c8102e"/>
<circle cx="164.7" cy="149.5" r="1.4" fill="#c8102e"/>
<circle cx="163.7" cy="149.2" r="1.2" fill="#c8102e"/>
<circle cx="164.5" cy="150.1" r="1.4" fill="#c8102e"/>
<circle cx="164.2" cy="150.0" r="1.4" fill="#c8102e"/>
<circle cx="164.6" cy="150.9" r="1.4" fill="#c8102e"/>
<circle cx="164.2" cy="150.8" r="1.4" fill="#c8102e"/>
<circle cx="164.1" cy="151.7" r="1.4" fill="#c8102e"/>
<circle cx="164.2" cy="151.4" r="1.4" fill="#c8102e"/>
<circle cx="165.1" cy="151.6" r="1.2" fill="#c8102e"/>
<circle cx="164.5" cy="152.4" r="1.4" fill="#c8102e"/>
<circle cx="164.6" cy="152.3" r="1.4" fill="#c8102e"/>
<circle cx="164.1" cy="153.3" r="1.4" fill="#c8102e"/>
<circle cx="164.6" cy="153.2" r="1.4" fill="#c8102e"/>
<circle cx="164.3" cy="154.3" r="1.4" fill="#c8102e"/>
<circle cx="164.1" cy="154.3" r="1.4" fill="#c8102e"/>
<circle cx="163.5" cy="154.0" r="1.2" fill="#c8102e"/>
<circle cx="164.0" cy="155.0" r="1.4" fill="#c8102e"/>
<circle cx="164.2" cy="154.6" r="1.4" fill="#c8102e"/>
<circle cx="164.6" cy="155.4" r="1.4" fill="#c8102e"/>
<circle cx="164.4" cy="155.6" r="1.4" fill="#c8102e"/>
<circle cx="163.8" cy="155.6" r="1.2" fill="#c8102e"/>
<circle cx="163.9" cy="156.6" r="1.4" fill="#c8102e"/>
<circle cx="164.2" cy="156.7" r="1.4" fill="#c8102e"/>
<circle cx="164.2" cy="157.2" r="1.4" fill="#c8102e"/>
<circle cx="164.1" cy="157.1" r="1.4" fill="#c8102e"/>
<circle cx="164.0" cy="158.1" r="1.4" fill="#c8102e"/>
<circle cx="164.5" cy="158.0" r="1.4" fill="#c8102e"/>
<circle cx="165.0" cy="158.0" r="1.2" fill="#c8102e"/>
<circle cx="164.4" cy="158.5" r="1.4" fill="#c8102e"/>
<circle cx="164.3" cy="158.9" r="1.4" fill="#c8102e"/>
<circle cx="164.0" cy="159.8" r="1.4" fill="#c8102e"/>
<circle cx="164.2" cy="159.4" r="1.4" fill="#c8102e"/>
<circle cx="164.1" cy="160.4" r="1.4" fill="#c8102e"/>
<circle cx="164.6" cy="160.4" r="1.4" fill="#c8102e"/>
<circle cx="163.7" cy="160.4" r="1.2" fill="#c8102e"/>
<circle cx="164.3" cy="160.9" r="1.4" fill="#c8102e"/>
<circle cx="164.5" cy="161.2" r="1.4" fill="#c8102e"/>
<circle cx="164.1" cy="162.2" r="1.4" fill="#c8102e"/>
<circle cx="164.7" cy="162.0" r="1.4" fill="#c8102e"/>
<circle cx="164.2" cy="162.7" r="1.4" fill="#c8102e"/>
<circle cx="164.0" cy="162.6" r="1.4" fill="#c8102e"/>
<circle cx="164.6" cy="163.8" r="1.4" fill="#c8102e"/>
<circle cx="164.3" cy="163.5" r="1.4" fill="#c8102e"/>
<circle cx="165.3" cy="163.6" r="1.2" fill="#c8102e"/>
<circle cx="164.5" cy="164.3" r="1.4" fill="#c8102e"/>
<circle cx="164.3" cy="164.3" r="1.4" fill="#c8102e"/>
<circle cx="164.0" cy="165.5" r="1.4" fill="#c8102e"/>
<circle cx="164.4" cy="164.9" r="1.4" fill="#c8102e"/>
<circle cx="164.2" cy="166.0" r="1.4" fill="#c8102e"/>
<circle cx="164.2" cy="166.1" r="1.4" fill="#c8102e"/>
<circle cx="164.6" cy="166.9" r="1.4" fill="#c8102e"/>
<circle cx="164.2" cy="166.8" r="1.4" fill="#c8102e"/>
<circle cx="164.0" cy="167.7" r="1.4" fill="#c8102e"/>
<circle cx="164.1" cy="167.9" r="1.4" fill="#c8102e"/>
<circle cx="165.3" cy="167.6" r="1.2" fill="#c8102e"/>
<circle cx="164.4" cy="168.1" r="1.4" fill="#c8102e"/>
<circle cx="164.1" cy="168.1" r="1.4" fill="#c8102e"/>
<circle cx="164.2" cy="169.2" r="1.4" fill="#c8102e"/>
<circle cx="164.0" cy="169.2" r="1.4" fill="#c8102e"/>
<circle cx="164.0" cy="170.0" r="1.4" fill="#c8102e"/>
<circle cx="164.6" cy="170.1" r="1.4" fill="#c8102e"/>
<circle cx="164.6" cy="170.9" r="1.4" fill="#c8102e"/>
<circle cx="164.1" cy="171.0" r="1.4" fill="#c8102e"/>
<circle cx="164.0" cy="171.9" r="1.4" fill="#c8102e"/>
<circle cx="164.5" cy="171.6" r="1.4" fill="#c8102e"/>
<circle cx="164.3" cy="172.3" r="1.4" fill="#c8102e"/>
<circle cx="164.4" cy="172.2" r="1.4" fill="#c8102e"/>
<circle cx="164.5" cy="173.0" r="1.4" fill="#c8102e"/>
<circle cx="164.5" cy="173.3" r="1.4" fill="#c8102e"/>
<circle cx="164.4" cy="173.7" r="1.4" fill="#c8102e"/>
<circle cx="164.2" cy="173.8" r="1.4" fill="#c8102e"/>
<circle cx="164.4" cy="174.9" r="1.4" fill="#c8102e"/>
<circle cx="164.1" cy="174.6" r="1.4" fill="#c8102e"/>
<circle cx="164.5" cy="175.4" r="1.4" fill="#c8102e"/>
<circle cx="164.5" cy="175.6" r="1.4" fill="#c8102e"/>
<circle cx="163.6" cy="175.6" r="1.2" fill="#c8102e"/>
<circle cx="164.5" cy="176.2" r="1.4" fill="#c8102e"/>
<circle cx="164.1" cy="176.3" r="1.4" fill="#c8102e"/>
<circle cx="164.6" cy="177.0" r="1.4" fill="#c8102e"/>
<circle cx="164.6" cy="177.5" r="1.4" fill="#c8102e"/>
<circle cx="164.5" cy="177.9" r="1.4" fill="#c8102e"/>
<circle cx="164.6" cy="178.0" r="1.4" fill="#c8102e"/>
<circle cx="164.4" cy="178.5" r="1.4" fill="#c8102e"/>
<circle cx="164.2" cy="178.9" r="1.4" fill="#c8102e"/>
<circle cx="164.2" cy="179.6" r="1.4" fill="#c8102e"/>
<circle cx="164.3" cy="179.6" r="1.4" fill="#c8102e"/>
<circle cx="164.1" cy="180.2" r="1.4" fill="#c8102e"/>
<circle cx="164.4" cy="180.7" r="1.4" fill="#c8102e"/>
<circle cx="164.5" cy="181.5" r="1.4" fill="#c8102e"/>
<circle cx="164.5" cy="181.0" r="1.4" fill="#c8102e"/>
<circle cx="163.7" cy="181.2" r="1.2" fill="#c8102e"/>
<circle cx="164.2" cy="181.7" r="1.4" fill="#c8102e"/>
<circle cx="164.4" cy="181.8" r="1.4" fill="#c8102e"/>
<circle cx="164.5" cy="182.6" r="1.4" fill="#c8102e"/>
<circle cx="164.2" cy="182.8" r="1.4" fill="#c8102e"/>
<circle cx="164.2" cy="183.5" r="1.4" fill="#c8102e"/>
<circle cx="164.3" cy="183.6" r="1.4" fill="#c8102e"/>
<circle cx="164.2" cy="184.2" r="1.4" fill="#c8102e"/>
<circle cx="164.3" cy="184.4" r="1.4" fill="#c8102e"/>
<circle cx="164.2" cy="185.3" r="1.4" fill="#c8102e"/>
<circle cx="164.5" cy="185.3" r="1.4" fill="#c8102e"/>
<circle cx="164.2" cy="185.9" r="1.4" fill="#c8102e"/>
<circle cx="164.6" cy="185.9" r="1.4" fill="#c8102e"/>
<circle cx="163.4" cy="186.0" r="1.2" fill="#c8102e"/>
<circle cx="164.4" cy="186.9" r="1.4" fill="#c8102e"/>
<circle cx="164.2" cy="187.1" r="1.4" fill="#c8102e"/>
<circle cx="164.3" cy="187.6" r="1.4" fill="#c8102e"/>
<circle cx="164.6" cy="187.9" r="1.4" fill="#c8102e"/>
<circle cx="164.3" cy="188.5" r="1.4" fill="#c8102e"/>
<circle cx="164.0" cy="188.4" r="1.4" fill="#c8102e"/>
<circle cx="164.1" cy="188.9" r="1.4" fill="#c8102e"/>
<circle cx="164.6" cy="189.1" r="1.4" fill="#c8102e"/>
<circle cx="164.4" cy="189.8" r="1.4" fill="#c8102e"/>
<circle cx="164.3" cy="190.2" r="1.4" fill="#c8102e"/>
<circle cx="164.0" cy="190.9" r="1.4" fill="#c8102e"/>
<circle cx="164.2" cy="190.7" r="1.4" fill="#c8102e"/>
<circle cx="164.4" cy="191.5" r="1.4" fill="#c8102e"/>
<circle cx="164.4" cy="191.8" r="1.4" fill="#c8102e"/>
<circle cx="164.5" cy="192.2" r="1.4" fill="#c8102e"/>
<circle cx="164.2" cy="192.5" r="1.4" fill="#c8102e"/>
<circle cx="163.7" cy="192.4" r="1.2" fill="#c8102e"/>
<circle cx="164.3" cy="196.0" r="1.35" fill="#c8102e"/>
<circle cx="164.3" cy="200.0" r="1.35" fill="#c8102e"/>
<rect x="156.4" y="205.2" width="16" height="2.9" rx="1.4" fill="#b80c28"/>
<line x1="164.5" y1="115.5" x2="164.5" y2="122.2" stroke="#000" stroke-width="1.5" />
<line x1="162.2" y1="115.5" x2="166.8" y2="115.5" stroke="#000" stroke-width="1.3" />
<line x1="162.2" y1="122.2" x2="166.8" y2="122.2" stroke="#000" stroke-width="1.3" />
<line x1="156.5" y1="118.4" x2="171.8" y2="118.4" stroke="#000" stroke-width="1.5" />
<circle cx="186.4" cy="65.5" r="1.35" fill="#0a3874"/>
<circle cx="189.7" cy="67.0" r="1.35" fill="#0a3874"/>
<circle cx="187.8" cy="72.2" r="1.35" fill="#0a3874"/>
<circle cx="180.8" cy="75.2" r="1.35" fill="#0a3874"/>
<circle cx="183.4" cy="76.3" r="1.35" fill="#0a3874"/>
<circle cx="185.6" cy="76.7" r="1.35" fill="#0a3874"/>
<circle cx="189.1" cy="76.3" r="1.35" fill="#0a3874"/>
<circle cx="191.7" cy="76.3" r="1.35" fill="#0a3874"/>
<circle cx="194.8" cy="76.7" r="1.35" fill="#0a3874"/>
<circle cx="184.3" cy="78.0" r="1.35" fill="#0a3874"/>
<circle cx="187.3" cy="78.3" r="1.35" fill="#0a3874"/>
<circle cx="191.3" cy="78.6" r="1.35" fill="#0a3874"/>
<circle cx="183.0" cy="80.2" r="1.35" fill="#0a3874"/>
<circle cx="186.5" cy="80.4" r="1.35" fill="#0a3874"/>
<circle cx="190.0" cy="80.2" r="1.35" fill="#0a3874"/>
<circle cx="183.9" cy="81.8" r="1.35" fill="#0a3874"/>
<circle cx="189.1" cy="82.0" r="1.35" fill="#0a3874"/>
<circle cx="183.5" cy="84.0" r="1.35" fill="#0a3874"/>
<circle cx="186.0" cy="85.0" r="1.35" fill="#0a3874"/>
<circle cx="190.4" cy="84.6" r="1.35" fill="#0a3874"/>
<circle cx="192.2" cy="84.0" r="1.35" fill="#0a3874"/>
<circle cx="187.8" cy="85.9" r="1.35" fill="#0a3874"/>
<circle cx="186.5" cy="90.7" r="1.35" fill="#0a3874"/>
<circle cx="183.9" cy="92.6" r="1.35" fill="#0a3874"/>
<circle cx="186.8" cy="91.2" r="1.35" fill="#0a3874"/>
<circle cx="187.1" cy="95.1" r="1.35" fill="#0a3874"/>
<circle cx="189.7" cy="94.1" r="1.35" fill="#0a3874"/>
<circle cx="185.3" cy="93.7" r="1.35" fill="#0a3874"/>
<circle cx="187.8" cy="101.9" r="1.35" fill="#0a3874"/>
<circle cx="187.8" cy="115.9" r="1.35" fill="#0a3874"/>
<circle cx="187.8" cy="119.5" r="1.35" fill="#0a3874"/>
<circle cx="187.8" cy="125.6" r="1.35" fill="#0a3874"/>
<circle cx="187.7" cy="153.5" r="1.35" fill="#0a3874"/>
<circle cx="187.7" cy="187.2" r="1.35" fill="#0a3874"/>
<line x1="188.0" y1="78.3" x2="188.0" y2="88.5" stroke="#000" stroke-width="1.1" />
<line x1="186.0" y1="78.3" x2="189.5" y2="78.3" stroke="#000" stroke-width="1.1" />
<line x1="186.0" y1="88.5" x2="190.0" y2="88.5" stroke="#000" stroke-width="1.1" />
<line x1="179.9" y1="83.0" x2="195.6" y2="83.0" stroke="#000" stroke-width="1.6" />
<line x1="204.0" y1="105.3" x2="219.6" y2="105.3" stroke="#000" stroke-width="1.4" />
<circle cx="213.3" cy="84.0" r="1.35" fill="#14a33a"/>
<circle cx="209.9" cy="85.9" r="1.35" fill="#14a33a"/>
<circle cx="208.2" cy="89.5" r="1.35" fill="#14a33a"/>
<circle cx="211.8" cy="91.3" r="1.35" fill="#14a33a"/>
<circle cx="208.2" cy="94.5" r="1.35" fill="#14a33a"/>
<circle cx="204.5" cy="96.1" r="1.35" fill="#14a33a"/>
<circle cx="211.8" cy="95.3" r="1.35" fill="#14a33a"/>
<circle cx="215.2" cy="95.3" r="1.35" fill="#14a33a"/>
<circle cx="218.7" cy="95.6" r="1.35" fill="#14a33a"/>
<circle cx="204.5" cy="99.5" r="1.35" fill="#14a33a"/>
<circle cx="208.2" cy="99.8" r="1.35" fill="#14a33a"/>
<circle cx="211.8" cy="98.8" r="1.35" fill="#14a33a"/>
<circle cx="215.2" cy="99.3" r="1.35" fill="#14a33a"/>
<circle cx="218.7" cy="99.5" r="1.35" fill="#14a33a"/>
<circle cx="211.8" cy="101.0" r="1.35" fill="#14a33a"/>
<circle cx="207.9" cy="102.7" r="1.35" fill="#14a33a"/>
<circle cx="211.8" cy="102.7" r="1.35" fill="#14a33a"/>
<circle cx="207.9" cy="104.2" r="1.35" fill="#14a33a"/>
<circle cx="211.8" cy="104.2" r="1.35" fill="#14a33a"/>
<circle cx="211.8" cy="106.5" r="1.35" fill="#14a33a"/>
<circle cx="204.5" cy="111.9" r="1.35" fill="#14a33a"/>
<circle cx="208.2" cy="111.2" r="1.35" fill="#14a33a"/>
<circle cx="211.8" cy="112.9" r="1.35" fill="#14a33a"/>
<circle cx="215.2" cy="111.9" r="1.35" fill="#14a33a"/>
<circle cx="218.7" cy="113.4" r="1.35" fill="#14a33a"/>
<circle cx="204.5" cy="115.5" r="1.35" fill="#14a33a"/>
<circle cx="208.2" cy="114.8" r="1.35" fill="#14a33a"/>
<circle cx="215.2" cy="115.5" r="1.35" fill="#14a33a"/>
<circle cx="218.7" cy="114.8" r="1.35" fill="#14a33a"/>
<circle cx="208.2" cy="117.0" r="1.35" fill="#14a33a"/>
<circle cx="215.2" cy="118.5" r="1.35" fill="#14a33a"/>
<circle cx="211.8" cy="119.9" r="1.35" fill="#14a33a"/>
<circle cx="211.8" cy="123.5" r="1.35" fill="#14a33a"/>
<circle cx="211.8" cy="131.8" r="1.35" fill="#14a33a"/>
<circle cx="211.8" cy="136.5" r="1.35" fill="#14a33a"/>
<circle cx="211.7" cy="189.5" r="1.35" fill="#14a33a"/>
<circle cx="211.7" cy="199.3" r="1.35" fill="#14a33a"/>
<line x1="228.1" y1="89.8" x2="243.1" y2="89.8" stroke="#000" stroke-width="1.4" />
<circle cx="233.3" cy="79.5" r="1.35" fill="#4d0f6e"/>
<circle cx="237.7" cy="80.7" r="1.35" fill="#4d0f6e"/>
<circle cx="232.9" cy="82.7" r="1.35" fill="#4d0f6e"/>
<circle cx="235.4" cy="89.7" r="1.35" fill="#4d0f6e"/>
<circle cx="235.4" cy="92.9" r="1.35" fill="#4d0f6e"/>
<circle cx="235.4" cy="99.1" r="1.35" fill="#4d0f6e"/>
<circle cx="235.4" cy="105.5" r="1.35" fill="#4d0f6e"/>
<line x1="53.9" y1="57.3" x2="53.9" y2="231.2" stroke="#000" stroke-width="1.5" />
<line x1="51.6" y1="230.5" x2="250.8" y2="230.5" stroke="#000" stroke-width="1.5" />
<line x1="49.9" y1="61.6" x2="53.9" y2="61.6" stroke="#000" stroke-width="1.3" />
<line x1="49.9" y1="85.9" x2="53.9" y2="85.9" stroke="#000" stroke-width="1.3" />
<line x1="49.9" y1="109.9" x2="53.9" y2="109.9" stroke="#000" stroke-width="1.3" />
<line x1="49.9" y1="134.2" x2="53.9" y2="134.2" stroke="#000" stroke-width="1.3" />
<line x1="49.9" y1="158.2" x2="53.9" y2="158.2" stroke="#000" stroke-width="1.3" />
<line x1="49.9" y1="182.6" x2="53.9" y2="182.6" stroke="#000" stroke-width="1.3" />
<line x1="49.9" y1="207.2" x2="53.9" y2="207.2" stroke="#000" stroke-width="1.3" />
<line x1="69.7" y1="230.5" x2="69.7" y2="234.8" stroke="#000" stroke-width="1.3" />
<line x1="93.5" y1="230.5" x2="93.5" y2="234.8" stroke="#000" stroke-width="1.3" />
<line x1="116.8" y1="230.5" x2="116.8" y2="234.8" stroke="#000" stroke-width="1.3" />
<line x1="140.8" y1="230.5" x2="140.8" y2="234.8" stroke="#000" stroke-width="1.3" />
<line x1="164.3" y1="230.5" x2="164.3" y2="234.8" stroke="#000" stroke-width="1.3" />
<line x1="188.0" y1="230.5" x2="188.0" y2="234.8" stroke="#000" stroke-width="1.3" />
<line x1="211.5" y1="230.5" x2="211.5" y2="234.8" stroke="#000" stroke-width="1.3" />
<line x1="235.2" y1="230.5" x2="235.2" y2="234.8" stroke="#000" stroke-width="1.3" />
<line x1="69.5" y1="251.5" x2="93.7" y2="251.5" stroke="#000" stroke-width="1.2" />
<line x1="116.0" y1="251.5" x2="140.4" y2="251.5" stroke="#000" stroke-width="1.2" />
<line x1="164.5" y1="251.5" x2="188.6" y2="251.5" stroke="#000" stroke-width="1.2" />
<line x1="211.2" y1="251.5" x2="235.9" y2="251.5" stroke="#000" stroke-width="1.2" />
<line x1="356.3" y1="169.3" x2="509.8" y2="169.3" stroke="#000" stroke-width="1.3" stroke-dasharray="2.6 1.72"/>
<circle cx="481.5" cy="82.9" r="1.75" fill="#c8102e"/>
<circle cx="487.3" cy="89.7" r="1.75" fill="#c8102e"/>
<circle cx="500.2" cy="91.5" r="1.75" fill="#c8102e"/>
<circle cx="478.5" cy="95.2" r="1.75" fill="#c8102e"/>
<circle cx="461.8" cy="96.4" r="1.75" fill="#c8102e"/>
<circle cx="461.7" cy="101.9" r="1.75" fill="#c8102e"/>
<circle cx="465.1" cy="110.7" r="1.75" fill="#c8102e"/>
<circle cx="452.3" cy="105.7" r="1.75" fill="#c8102e"/>
<circle cx="454.5" cy="105.3" r="1.75" fill="#c8102e"/>
<circle cx="457.5" cy="109.2" r="1.75" fill="#c8102e"/>
<circle cx="455.2" cy="116.2" r="1.75" fill="#c8102e"/>
<circle cx="445.7" cy="117.3" r="1.75" fill="#c8102e"/>
<circle cx="450.5" cy="121.3" r="1.75" fill="#c8102e"/>
<circle cx="444.4" cy="121.7" r="1.75" fill="#c8102e"/>
<circle cx="442.5" cy="123.7" r="1.75" fill="#c8102e"/>
<circle cx="440.4" cy="124.9" r="1.75" fill="#c8102e"/>
<circle cx="445.5" cy="124.9" r="1.75" fill="#c8102e"/>
<circle cx="446.9" cy="123.7" r="1.75" fill="#c8102e"/>
<circle cx="448.9" cy="121.6" r="1.75" fill="#c8102e"/>
<circle cx="444.5" cy="122.2" r="1.75" fill="#c8102e"/>
<circle cx="446.2" cy="124.4" r="1.75" fill="#c8102e"/>
<circle cx="439.6" cy="123.8" r="1.75" fill="#c8102e"/>
<circle cx="442.4" cy="124.9" r="1.75" fill="#c8102e"/>
<circle cx="441.3" cy="127.1" r="1.75" fill="#c8102e"/>
<circle cx="443.4" cy="127.6" r="1.75" fill="#c8102e"/>
<circle cx="439.6" cy="128.2" r="1.75" fill="#c8102e"/>
<circle cx="435.3" cy="128.7" r="1.75" fill="#c8102e"/>
<circle cx="430.9" cy="130.4" r="1.75" fill="#c8102e"/>
<circle cx="435.8" cy="130.9" r="1.75" fill="#c8102e"/>
<circle cx="436.4" cy="133.1" r="1.75" fill="#c8102e"/>
<circle cx="437.4" cy="133.8" r="1.75" fill="#c8102e"/>
<circle cx="426.5" cy="133.6" r="1.75" fill="#c8102e"/>
<circle cx="424.9" cy="135.3" r="1.75" fill="#c8102e"/>
<circle cx="423.8" cy="143.4" r="1.75" fill="#c8102e"/>
<circle cx="422.7" cy="145.1" r="1.75" fill="#c8102e"/>
<circle cx="420.9" cy="147.0" r="1.75" fill="#c8102e"/>
<circle cx="428.7" cy="146.7" r="1.75" fill="#c8102e"/>
<circle cx="430.4" cy="148.6" r="1.75" fill="#c8102e"/>
<circle cx="435.3" cy="143.4" r="1.75" fill="#c8102e"/>
<circle cx="441.3" cy="145.3" r="1.75" fill="#c8102e"/>
<circle cx="436.4" cy="148.6" r="1.75" fill="#c8102e"/>
<circle cx="431.3" cy="129.0" r="1.75" fill="#c8102e"/>
<circle cx="434.5" cy="128.5" r="1.75" fill="#c8102e"/>
<circle cx="413.3" cy="120.2" r="1.75" fill="#c8102e"/>
<circle cx="424.6" cy="135.5" r="1.75" fill="#c8102e"/>
<circle cx="426.4" cy="134.0" r="1.75" fill="#c8102e"/>
<circle cx="412.8" cy="141.7" r="1.75" fill="#c8102e"/>
<circle cx="393.2" cy="147.1" r="1.75" fill="#c8102e"/>
<circle cx="400.2" cy="147.5" r="1.75" fill="#c8102e"/>
<circle cx="409.6" cy="147.1" r="1.75" fill="#c8102e"/>
<circle cx="415.5" cy="145.6" r="1.75" fill="#c8102e"/>
<circle cx="417.6" cy="148.1" r="1.75" fill="#c8102e"/>
<circle cx="420.5" cy="148.5" r="1.75" fill="#c8102e"/>
<circle cx="423.5" cy="144.2" r="1.75" fill="#c8102e"/>
<circle cx="411.8" cy="148.1" r="1.75" fill="#c8102e"/>
<circle cx="424.9" cy="145.5" r="1.75" fill="#c8102e"/>
<circle cx="441.3" cy="145.5" r="1.75" fill="#c8102e"/>
<circle cx="420.9" cy="148.8" r="1.75" fill="#c8102e"/>
<circle cx="430.4" cy="147.7" r="1.75" fill="#c8102e"/>
<circle cx="436.4" cy="149.4" r="1.75" fill="#c8102e"/>
<circle cx="427.1" cy="151.8" r="1.75" fill="#c8102e"/>
<circle cx="430.9" cy="151.0" r="1.75" fill="#c8102e"/>
<circle cx="432.0" cy="153.2" r="1.75" fill="#c8102e"/>
<circle cx="434.2" cy="152.6" r="1.75" fill="#c8102e"/>
<circle cx="434.7" cy="155.9" r="1.75" fill="#c8102e"/>
<circle cx="429.3" cy="156.5" r="1.75" fill="#c8102e"/>
<circle cx="421.1" cy="156.5" r="1.75" fill="#c8102e"/>
<circle cx="423.8" cy="157.5" r="1.75" fill="#c8102e"/>
<circle cx="429.3" cy="161.4" r="1.75" fill="#c8102e"/>
<circle cx="420.5" cy="163.0" r="1.75" fill="#c8102e"/>
<circle cx="421.6" cy="173.9" r="1.75" fill="#c8102e"/>
<circle cx="376.6" cy="150.7" r="1.75" fill="#c8102e"/>
<circle cx="388.1" cy="152.6" r="1.75" fill="#c8102e"/>
<circle cx="365.5" cy="165.2" r="1.75" fill="#c8102e"/>
<circle cx="365.5" cy="168.4" r="1.75" fill="#c8102e"/>
<circle cx="383.4" cy="164.8" r="1.75" fill="#c8102e"/>
<circle cx="385.6" cy="167.9" r="1.75" fill="#c8102e"/>
<circle cx="386.2" cy="170.6" r="1.75" fill="#c8102e"/>
<circle cx="384.0" cy="172.8" r="1.75" fill="#c8102e"/>
<circle cx="381.3" cy="173.9" r="1.75" fill="#c8102e"/>
<circle cx="379.1" cy="174.4" r="1.75" fill="#c8102e"/>
<circle cx="365.2" cy="173.9" r="1.75" fill="#c8102e"/>
<circle cx="389.2" cy="163.3" r="1.75" fill="#c8102e"/>
<circle cx="365.3" cy="174.4" r="1.75" fill="#c8102e"/>
<circle cx="377.8" cy="175.8" r="1.75" fill="#c8102e"/>
<circle cx="380.5" cy="175.1" r="1.75" fill="#c8102e"/>
<circle cx="383.3" cy="174.2" r="1.75" fill="#c8102e"/>
<circle cx="385.2" cy="173.6" r="1.75" fill="#c8102e"/>
<circle cx="385.2" cy="177.5" r="1.75" fill="#c8102e"/>
<circle cx="365.3" cy="180.7" r="1.75" fill="#c8102e"/>
<circle cx="366.7" cy="182.4" r="1.75" fill="#c8102e"/>
<circle cx="371.8" cy="182.0" r="1.75" fill="#c8102e"/>
<circle cx="374.5" cy="182.0" r="1.75" fill="#c8102e"/>
<circle cx="378.9" cy="184.0" r="1.75" fill="#c8102e"/>
<circle cx="379.1" cy="186.2" r="1.75" fill="#c8102e"/>
<circle cx="383.8" cy="182.4" r="1.75" fill="#c8102e"/>
<circle cx="369.1" cy="190.0" r="1.75" fill="#c8102e"/>
<circle cx="370.7" cy="194.4" r="1.75" fill="#c8102e"/>
<circle cx="373.4" cy="194.9" r="1.75" fill="#c8102e"/>
<circle cx="375.4" cy="193.6" r="1.75" fill="#c8102e"/>
<circle cx="374.5" cy="196.5" r="1.75" fill="#c8102e"/>
<circle cx="380.0" cy="193.3" r="1.75" fill="#c8102e"/>
<circle cx="378.4" cy="198.7" r="1.75" fill="#c8102e"/>
<circle cx="383.0" cy="199.3" r="1.75" fill="#c8102e"/>
<circle cx="385.4" cy="194.9" r="1.75" fill="#c8102e"/>
<circle cx="367.5" cy="200.9" r="1.75" fill="#c8102e"/>
<circle cx="391.5" cy="173.1" r="1.75" fill="#c8102e"/>
<circle cx="394.2" cy="173.3" r="1.75" fill="#c8102e"/>
<circle cx="400.7" cy="172.5" r="1.75" fill="#c8102e"/>
<circle cx="395.8" cy="175.8" r="1.75" fill="#c8102e"/>
<circle cx="389.3" cy="178.5" r="1.75" fill="#c8102e"/>
<circle cx="392.0" cy="179.6" r="1.75" fill="#c8102e"/>
<circle cx="395.3" cy="178.5" r="1.75" fill="#c8102e"/>
<circle cx="386.9" cy="177.5" r="1.75" fill="#c8102e"/>
<circle cx="402.6" cy="176.0" r="1.75" fill="#c8102e"/>
<circle cx="405.5" cy="174.8" r="1.75" fill="#c8102e"/>
<circle cx="407.6" cy="174.3" r="1.75" fill="#c8102e"/>
<circle cx="409.3" cy="175.6" r="1.75" fill="#c8102e"/>
<circle cx="403.6" cy="178.2" r="1.75" fill="#c8102e"/>
<circle cx="406.0" cy="178.3" r="1.75" fill="#c8102e"/>
<circle cx="408.6" cy="178.0" r="1.75" fill="#c8102e"/>
<circle cx="405.0" cy="180.4" r="1.75" fill="#c8102e"/>
<circle cx="407.5" cy="180.6" r="1.75" fill="#c8102e"/>
<circle cx="406.5" cy="176.5" r="1.75" fill="#c8102e"/>
<circle cx="396.9" cy="182.7" r="1.75" fill="#c8102e"/>
<circle cx="390.9" cy="184.9" r="1.75" fill="#c8102e"/>
<circle cx="389.1" cy="187.3" r="1.75" fill="#c8102e"/>
<circle cx="395.6" cy="188.1" r="1.75" fill="#c8102e"/>
<circle cx="397.5" cy="189.2" r="1.75" fill="#c8102e"/>
<circle cx="405.4" cy="188.4" r="1.75" fill="#c8102e"/>
<circle cx="394.2" cy="192.2" r="1.75" fill="#c8102e"/>
<circle cx="388.2" cy="192.7" r="1.75" fill="#c8102e"/>
<circle cx="386.9" cy="194.9" r="1.75" fill="#c8102e"/>
<circle cx="398.2" cy="194.4" r="1.75" fill="#c8102e"/>
<circle cx="402.1" cy="200.1" r="1.75" fill="#c8102e"/>
<circle cx="414.4" cy="172.0" r="1.75" fill="#c8102e"/>
<circle cx="420.9" cy="174.0" r="1.75" fill="#c8102e"/>
<circle cx="422.3" cy="175.1" r="1.75" fill="#c8102e"/>
<circle cx="431.0" cy="180.7" r="1.75" fill="#c8102e"/>
<circle cx="437.0" cy="185.1" r="1.75" fill="#c8102e"/>
<circle cx="394.8" cy="155.0" r="1.75" fill="#c8102e"/>
<circle cx="392.5" cy="158.6" r="1.75" fill="#c8102e"/>
<circle cx="399.8" cy="159.5" r="1.75" fill="#c8102e"/>
<circle cx="402.1" cy="160.5" r="1.75" fill="#c8102e"/>
<circle cx="404.8" cy="155.5" r="1.75" fill="#c8102e"/>
<circle cx="404.5" cy="162.0" r="1.75" fill="#c8102e"/>
<circle cx="394.4" cy="161.8" r="1.75" fill="#c8102e"/>
<circle cx="391.6" cy="163.2" r="1.75" fill="#c8102e"/>
<circle cx="383.9" cy="163.8" r="1.75" fill="#c8102e"/>
<circle cx="398.6" cy="149.1" r="1.75" fill="#c8102e"/>
<circle cx="395.9" cy="150.9" r="1.75" fill="#c8102e"/>
<circle cx="402.3" cy="150.9" r="1.75" fill="#c8102e"/>
<circle cx="410.9" cy="149.1" r="1.75" fill="#c8102e"/>
<circle cx="414.1" cy="150.0" r="1.75" fill="#c8102e"/>
<circle cx="416.8" cy="150.9" r="1.75" fill="#c8102e"/>
<circle cx="419.1" cy="149.5" r="1.75" fill="#c8102e"/>
<circle cx="412.7" cy="151.8" r="1.75" fill="#c8102e"/>
<circle cx="415.9" cy="152.7" r="1.75" fill="#c8102e"/>
<circle cx="418.6" cy="153.2" r="1.75" fill="#c8102e"/>
<circle cx="406.4" cy="153.2" r="1.75" fill="#c8102e"/>
<circle cx="404.5" cy="154.5" r="1.75" fill="#c8102e"/>
<circle cx="406.8" cy="155.9" r="1.75" fill="#c8102e"/>
<circle cx="410.5" cy="155.9" r="1.75" fill="#c8102e"/>
<circle cx="414.1" cy="155.5" r="1.75" fill="#c8102e"/>
<circle cx="416.8" cy="156.8" r="1.75" fill="#c8102e"/>
<circle cx="407.7" cy="159.1" r="1.75" fill="#c8102e"/>
<circle cx="410.9" cy="158.2" r="1.75" fill="#c8102e"/>
<circle cx="414.1" cy="158.2" r="1.75" fill="#c8102e"/>
<circle cx="417.3" cy="159.5" r="1.75" fill="#c8102e"/>
<circle cx="405.9" cy="162.3" r="1.75" fill="#c8102e"/>
<circle cx="409.1" cy="161.8" r="1.75" fill="#c8102e"/>
<circle cx="413.2" cy="162.3" r="1.75" fill="#c8102e"/>
<circle cx="416.4" cy="161.8" r="1.75" fill="#c8102e"/>
<circle cx="419.1" cy="161.4" r="1.75" fill="#c8102e"/>
<circle cx="407.7" cy="164.1" r="1.75" fill="#c8102e"/>
<circle cx="411.4" cy="164.1" r="1.75" fill="#c8102e"/>
<circle cx="415.0" cy="163.8" r="1.75" fill="#c8102e"/>
<circle cx="396.0" cy="165.0" r="1.75" fill="#c8102e"/>
<circle cx="399.0" cy="165.5" r="1.75" fill="#c8102e"/>
<circle cx="402.0" cy="164.5" r="1.75" fill="#c8102e"/>
<circle cx="405.0" cy="165.5" r="1.75" fill="#c8102e"/>
<circle cx="408.0" cy="166.0" r="1.75" fill="#c8102e"/>
<circle cx="411.0" cy="167.0" r="1.75" fill="#c8102e"/>
<circle cx="414.5" cy="166.0" r="1.75" fill="#c8102e"/>
<circle cx="417.5" cy="164.5" r="1.75" fill="#c8102e"/>
<circle cx="396.0" cy="168.0" r="1.75" fill="#c8102e"/>
<circle cx="398.0" cy="168.5" r="1.75" fill="#c8102e"/>
<circle cx="406.5" cy="168.5" r="1.75" fill="#c8102e"/>
<circle cx="409.5" cy="169.0" r="1.75" fill="#c8102e"/>
<circle cx="413.0" cy="170.0" r="1.75" fill="#c8102e"/>
<circle cx="416.5" cy="168.0" r="1.75" fill="#c8102e"/>
<circle cx="397.0" cy="171.0" r="1.75" fill="#c8102e"/>
<circle cx="401.0" cy="170.5" r="1.75" fill="#c8102e"/>
<circle cx="404.0" cy="170.5" r="1.75" fill="#c8102e"/>
<circle cx="408.0" cy="171.5" r="1.75" fill="#c8102e"/>
<circle cx="411.5" cy="172.0" r="1.75" fill="#c8102e"/>
<circle cx="414.5" cy="171.0" r="1.75" fill="#c8102e"/>
<circle cx="419.5" cy="173.6" r="1.75" fill="#c8102e"/>
<line x1="356.0" y1="208.2" x2="509.8" y2="74.1" stroke="#000" stroke-width="1.4" />
<line x1="356.3" y1="60.1" x2="356.3" y2="231.2" stroke="#000" stroke-width="1.5" />
<line x1="351.8" y1="230.5" x2="509.6" y2="230.5" stroke="#000" stroke-width="1.5" />
<line x1="352.1" y1="64.9" x2="356.3" y2="64.9" stroke="#000" stroke-width="1.3" />
<line x1="352.1" y1="106.3" x2="356.3" y2="106.3" stroke="#000" stroke-width="1.3" />
<line x1="352.1" y1="147.8" x2="356.3" y2="147.8" stroke="#000" stroke-width="1.3" />
<line x1="352.1" y1="188.9" x2="356.3" y2="188.9" stroke="#000" stroke-width="1.3" />
<line x1="356.3" y1="230.5" x2="356.3" y2="234.5" stroke="#000" stroke-width="1.3" />
<line x1="386.9" y1="230.5" x2="386.9" y2="234.5" stroke="#000" stroke-width="1.3" />
<line x1="417.7" y1="230.5" x2="417.7" y2="234.5" stroke="#000" stroke-width="1.3" />
<line x1="448.2" y1="230.5" x2="448.2" y2="234.5" stroke="#000" stroke-width="1.3" />
<line x1="478.7" y1="230.5" x2="478.7" y2="234.5" stroke="#000" stroke-width="1.3" />
<!-- panel labels -->
<text x="8.7" y="19.6" font-size="13.8" font-weight="bold" stroke="#000" stroke-width="0.55">A</text>
<text x="311.7" y="19.6" font-size="13.8" font-weight="bold" stroke="#000" stroke-width="0.55">B</text>
<text x="28.9" y="65.2" font-size="10.8">10<tspan font-size="8.6" dx="0.9" dy="-4.4">5</tspan></text>
<text x="28.9" y="89.6" font-size="10.8">10<tspan font-size="8.6" dx="0.9" dy="-4.4">4</tspan></text>
<text x="28.9" y="113.7" font-size="10.8">10<tspan font-size="8.6" dx="0.9" dy="-4.4">3</tspan></text>
<text x="28.9" y="138.0" font-size="10.8">10<tspan font-size="8.6" dx="0.9" dy="-4.4">2</tspan></text>
<text x="28.9" y="162.0" font-size="10.8">10</text>
<text x="36.6" y="186.4" font-size="10.8">1</text>
<text x="28.9" y="209.9" font-size="10.8">10<tspan font-size="8.8" dx="0.6" dy="-3.6">–1</tspan></text>
<text x="331.1" y="68.2" font-size="10.8">10<tspan font-size="8.6" dx="0.9" dy="-4.4">5</tspan></text>
<text x="331.1" y="109.8" font-size="10.8">10<tspan font-size="8.6" dx="0.9" dy="-4.4">4</tspan></text>
<text x="331.1" y="151.4" font-size="10.8">10<tspan font-size="8.6" dx="0.9" dy="-4.4">3</tspan></text>
<text x="331.1" y="192.5" font-size="10.8">10<tspan font-size="8.6" dx="0.9" dy="-4.4">2</tspan></text>
<text x="377.9" y="247.1" font-size="10.8">10<tspan font-size="8.6" dx="0.9" dy="-4.4">2</tspan></text>
<text x="408.8" y="247.1" font-size="10.8">10<tspan font-size="8.6" dx="0.9" dy="-4.4">3</tspan></text>
<text x="439.3" y="247.1" font-size="10.8">10<tspan font-size="8.6" dx="0.9" dy="-4.4">4</tspan></text>
<text x="469.8" y="247.1" font-size="10.8">10<tspan font-size="8.6" dx="0.9" dy="-4.4">5</tspan></text>
<!-- A x labels -->
<g font-size="10.5" text-anchor="middle">
<text x="69.8" y="247.1">U</text><text x="93.4" y="247.1">I</text>
<text x="117.2" y="247.1">U</text><text x="140.6" y="247.1">I</text>
<text x="164.4" y="247.1">U</text><text x="187.8" y="247.1">I</text>
<text x="211.5" y="247.1">U</text><text x="235.2" y="247.1">I</text>
</g>
<g font-size="12.2" text-anchor="middle">
<text x="81.6" y="265.6">Pre</text>
<text x="128.6" y="266.0">1st</text>
<text x="177.0" y="266.0">2nd</text>
<text x="223.7" y="266.0">Control</text>
</g>
<!-- y axis titles -->
<g font-size="14.5" stroke="#000" stroke-width="0.4">
<text transform="translate(20.6,178.0) rotate(-90) scale(0.57,1)">IgG S1</text>
<text transform="translate(20.6,150.5) rotate(-90) scale(0.67,1)">(BAU/ml)</text>
</g>
<g font-size="13.2" stroke="#000" stroke-width="0.4">
<text transform="translate(321.9,179.5) rotate(-90) scale(0.62,1)">IgG S1</text>
<text transform="translate(321.9,150.6) rotate(-90) scale(0.71,1)">(BAU/ml)</text>
</g>
<text transform="translate(425.2,263.9) scale(0.72,1)" font-size="11.4" font-weight="bold">ID<tspan font-size="8.6" font-weight="normal" dx="0.3" dy="2.2">50</tspan></text>
<!-- frame -->
<rect x="0" y="0" width="520" height="1.5" fill="#000"/>
<rect x="0" y="0" width="1.5" height="275" fill="#000"/>
<rect x="518" y="0" width="2" height="275" fill="#000"/>
<rect x="0" y="273" width="520" height="2" fill="#000"/>
</svg>
</body></html>
